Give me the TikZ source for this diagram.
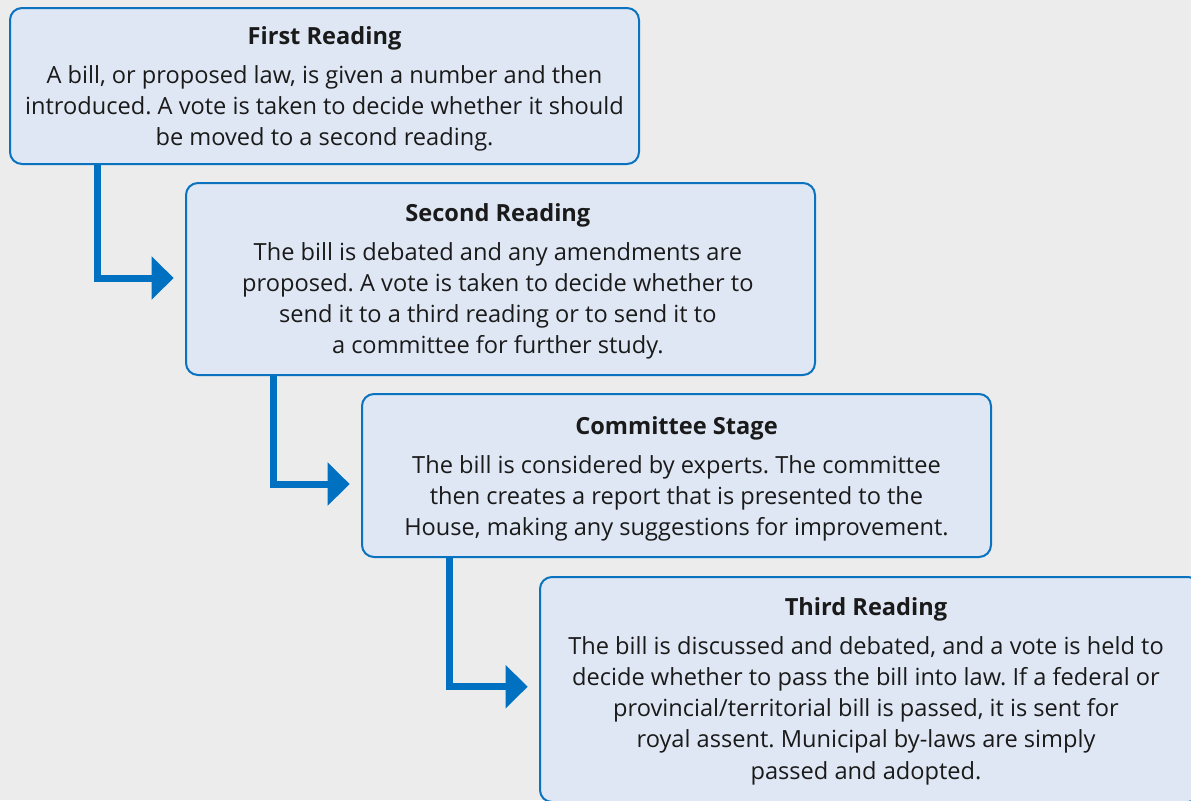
\documentclass[tikz,border=0pt]{standalone}
\usepackage{fontspec}
\setmainfont{Open Sans}
\frenchspacing
\usetikzlibrary{arrows.meta,positioning,calc}
\definecolor{bg}{HTML}{ECECEC}
\definecolor{boxfill}{HTML}{DFE7F4}
\definecolor{boxline}{HTML}{0A72BF}
\definecolor{arrowblue}{HTML}{0070C0}
\definecolor{ink}{HTML}{1A1A1A}
\tikzset{
    stage/.style={
        rectangle,
        rounded corners=9pt,
        draw=boxline,
        line width=1.5pt,
        fill=boxfill,
        minimum width=471.75pt,
        inner sep=0pt,
    },
    blurb/.style={
        align=center,
        inner sep=0pt,
        text=ink,
        font=\fontsize{17.7}{23.45}\selectfont,
    },
    flow/.style={
        draw=arrowblue,
        line width=5.25pt,
        -{Triangle[length=16.5pt,width=31.5pt]},
        shorten >=8.5pt,
    },
}
\begin{document}
\begin{tikzpicture}[x=0.75pt,y=-0.75pt]
    \useasboundingbox (0,0) rectangle (1191,800);
    \clip (0,0) rectangle (1191,800);
    \fill[bg] (0,0) rectangle (1191,800);
    \node[stage, minimum height=117pt] (first) at (324.5,86) {};
    \node[stage, minimum height=144pt] (second) at (500.5,279) {};
    \node[stage, minimum height=122.25pt] (committee) at (676.5,475.5) {};
    \node[stage, minimum width=495pt, minimum height=168.75pt] (third) at (870,689.5) {};
    \node[blurb, anchor=north] (firsttext) at ([yshift=-14.6pt]first.north) {\textbf{First Reading}\\[5.4pt]
        A bill, or proposed law, is given a number and then\\
        introduced. A vote is taken to decide whether it should\\
        be moved to a second reading.};
    \node[blurb, anchor=north] (secondtext) at ([xshift=-2pt,yshift=-16.1pt]second.north) {\textbf{Second Reading}\\[5.4pt]
        The bill is debated and any amendments are\\
        proposed. A vote is taken to decide whether to\\
        send it to a third reading or to send it to\\
        a committee for further study.};
    \node[blurb, anchor=north] (committeetext) at ([yshift=-17.6pt]committee.north) {\textbf{Committee Stage}\\[5.4pt]
        The bill is considered by experts. The committee\\
        then creates a report that is presented to the\\
        House, making any suggestions for improvement.};
    \node[blurb, anchor=north] (thirdtext) at ([xshift=-3pt,yshift=-16.1pt]third.north) {\textbf{Third Reading}\\[5.4pt]
        The bill is discussed and debated, and a vote is held to\\
        decide whether to pass the bill into law. If a federal or\\
        provincial/territorial bill is passed, it is sent for\\
        royal assent. Municipal by-laws are simply\\
        passed and adopted.};
    \draw[flow] ([xshift=66pt]first.south west) |- ([yshift=0.75pt]second.west);
    \draw[flow] ([xshift=66pt]second.south west) |- ([yshift=-6.4pt]committee.west);
    \draw[flow] ([xshift=66pt]committee.south west) |- ([yshift=2.1pt]third.west);
\end{tikzpicture}
\end{document}
